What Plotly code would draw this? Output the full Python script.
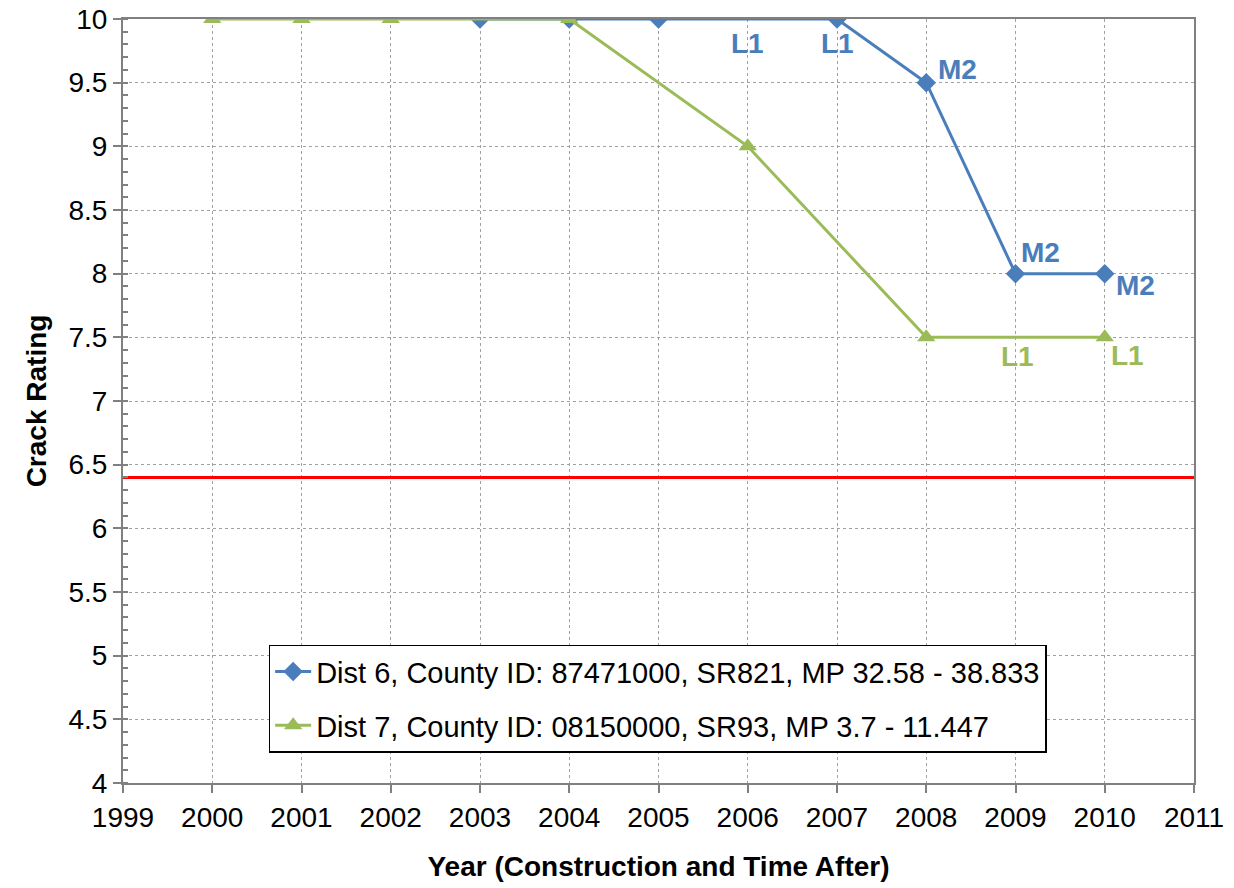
import plotly.graph_objects as go

years_d6 = [2003, 2004, 2005, 2007, 2008, 2009, 2010]
rating_d6 = [10, 10, 10, 10, 9.5, 8, 8]
years_d7 = [2000, 2001, 2002, 2004, 2006, 2008, 2010]
rating_d7 = [10, 10, 10, 10, 9, 7.5, 7.5]
name_d6 = "Dist 6, County ID: 87471000, SR821, MP 32.58 - 38.833"
name_d7 = "Dist 7, County ID: 08150000, SR93, MP 3.7 - 11.447"
threshold = 6.4

labels_d6 = [(2006, 9.81, "L1"), (2007.01, 9.81, "L1"), (2008.35, 9.6, "M2"),
             (2009.28, 8.17, "M2"), (2010.35, 7.91, "M2")]
labels_d7 = [(2009.02, 7.35, "L1"), (2010.25, 7.36, "L1")]

blue = "#4A7EBB"
green = "#9BBB59"
FONT = "Liberation Sans, Arial"
FS = 28

fig = go.Figure()
fig.add_trace(go.Scatter(x=[1999, 2011], y=[threshold, threshold], mode="lines",
                         line=dict(color="#FF0000", width=3), showlegend=False,
                         hoverinfo="skip"))
fig.add_trace(go.Scatter(x=years_d6, y=rating_d6, mode="lines+markers", name=name_d6,
                         legendgroup="a",
                         line=dict(color=blue, width=3),
                         marker=dict(symbol="diamond", size=15, color=blue)))
fig.add_trace(go.Scatter(x=years_d7, y=rating_d7, mode="lines+markers", name=name_d7,
                         legendgroup="b",
                         line=dict(color=green, width=3),
                         marker=dict(symbol="triangle-up", size=16, color=green)))

for x, y, t in labels_d6:
    fig.add_annotation(x=x, y=y, text="<b>%s</b>" % t, showarrow=False,
                       font=dict(family=FONT, size=FS, color=blue))
for x, y, t in labels_d7:
    fig.add_annotation(x=x, y=y, text="<b>%s</b>" % t, showarrow=False,
                       font=dict(family=FONT, size=FS, color=green))

fig.update_layout(
    width=1234, height=888,
    margin=dict(l=122.5, r=40.3, t=19, b=105.3),
    paper_bgcolor="white", plot_bgcolor="white",
    font=dict(family=FONT, size=FS, color="black"),
    legend=dict(x=0.136, y=0.181, xanchor="left", yanchor="top",
                bgcolor="white", bordercolor="black", borderwidth=1.5,
                font=dict(size=29), tracegroupgap=13, traceorder="grouped",
                itemwidth=36),
    xaxis=dict(range=[1999, 2011], dtick=1, tick0=1999, automargin=False,
               showgrid=True, gridcolor="#A0A0A0", griddash="dot", gridwidth=1,
               showline=True, linecolor="#808080", linewidth=2, mirror=True,
               ticks="outside", ticklen=8, tickcolor="#808080", tickwidth=2,
               zeroline=False, tickfont=dict(size=FS), ticklabeloverflow="allow",
               title=dict(text="<b>Year (Construction and Time After)</b>",
                          font=dict(size=FS), standoff=25)),
    yaxis=dict(range=[4, 10], dtick=0.5, tick0=4, automargin=False,
               showgrid=True, gridcolor="#A0A0A0", griddash="dot", gridwidth=1,
               showline=True, linecolor="#808080", linewidth=2, mirror=True,
               ticks="outside", ticklen=8, tickcolor="#808080", tickwidth=2,
               zeroline=False, tickfont=dict(size=FS), ticklabeloverflow="allow",
               minor=dict(dtick=0.1, ticks="inside", ticklen=5, tickcolor="#808080",
                          tickwidth=2, showgrid=False),
               title=dict(text="<b>Crack Rating</b>", font=dict(size=FS), standoff=14)),
)

fig.write_html("out.html", post_script="document.body.style.margin='0';",
               config={"displayModeBar": False})
